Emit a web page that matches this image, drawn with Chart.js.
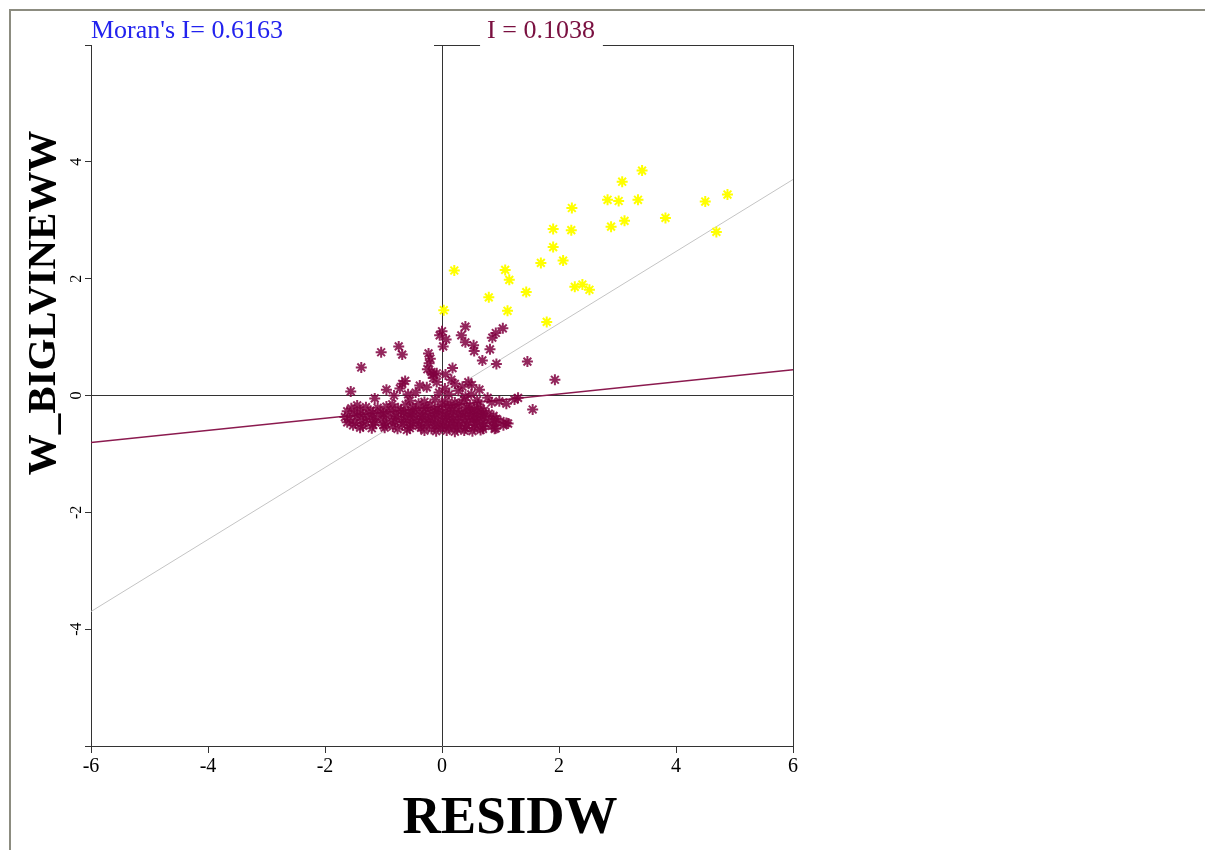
<!DOCTYPE html>
<html>
<head>
  <meta charset="UTF-8">
  <script src="https://cdn.jsdelivr.net/npm/chart.js"></script>
  <title>Moran scatter plot</title>
  <style>
    body { margin: 0; background: #fff; }
    .frame { position: absolute; left: 9px; top: 9px; right: 0; bottom: 0; border-left: 2px solid #8c8c80; border-top: 2px solid #8c8c80; }
    #chart { position: absolute; left: 0; top: 0; }
  </style>
</head>
<body>
  <div class="frame"></div>
  <canvas id="chart" width="1205" height="850"></canvas>
  <script>
    // axis / annotation text
    const xTitle = 'RESIDW';
    const yTitle = 'W_BIGLVINEWW';
    const moranI = 0.6163;
    const subsetI = 0.1038;
    const subsetIntercept = -0.18;
    const axisTicks = [-6, -4, -2, 0, 2, 4, 6];

    // yellow (high-high) points
    const hhX = [3.42, 3.08, 2.83, 3.02, 3.35, 4.50, 4.88, 2.22, 3.82, 3.12, 2.89, 4.69, 1.90, 2.21,
      1.90, 2.07, 1.69, 0.21, 1.08, 1.15, 2.27, 2.40, 2.52, 1.44, 0.80, 1.12, 0.03, 1.79];
    const hhY = [3.85, 3.66, 3.35, 3.33, 3.35, 3.32, 3.44, 3.21, 3.04, 2.99, 2.89, 2.80, 2.85, 2.83,
      2.54, 2.31, 2.27, 2.14, 2.15, 1.98, 1.86, 1.90, 1.81, 1.77, 1.68, 1.45, 1.46, 1.26];

    // maroon points (all other observations)
    const otX = [0.40, 0.33, 0.00, -0.04, 0.07, 0.02, 1.04, 0.92, 0.86, 0.40, 0.54, 0.55, 0.82, 0.69,
      0.93, 1.46, 1.93, 1.55, -1.38, -1.04, -0.74, -0.68, -0.23, -0.22, -0.25, 0.18, 0.16, 0.06,
      -1.56, -0.95, -0.72, -0.68, -0.63, -0.38, -0.15, -0.09, 0.45, 0.51, 0.64, 0.78, 0.98, 1.24,
      1.30, 0.66, 0.70, 0.93, 0.90, 1.13, 1.05, -0.15, -0.26, -0.09, -0.20, -0.18,
      0.05, -0.05, 0.12, 0.28, 0.35, 0.22, -0.45, -0.58, -1.15, -0.82, 0.50, 0.40, 0.85, 1.10, 0.60,
      -0.55, -0.30, -0.12, 0.05, 0.22, 0.38,
      -1.45, -0.85, -0.62, -0.40, -0.20, 0.00, 0.15, 0.30, 0.48, 0.62,
      -1.55, -1.30, -1.10, -0.95, -0.75, -0.50, -0.28, -0.08, 0.10, 0.25, 0.42, 0.55,
      -1.62, -1.40, -1.22, -1.05, -0.88, -0.70, -0.58, -0.45, -0.32, -0.18, -0.05, 0.06, 0.18, 0.33, 0.46, 0.60, 0.72,
      -1.50, -1.35, -1.18, -1.00, -0.82, -0.66, -0.52, -0.38, -0.24, -0.12, 0.02, 0.14, 0.28, 0.40, 0.52, 0.66, 0.80,
      -1.66, -1.45, -1.28, -1.12, -0.95, -0.78, -0.62, -0.48, -0.34, -0.20, -0.06, 0.08, 0.20, 0.35, 0.48, 0.58, 0.72, 0.88,
      -1.58, -1.38, -1.20, -1.02, -0.86, -0.70, -0.55, -0.42, -0.28, -0.14, 0.00, 0.12, 0.26, 0.40, 0.54, 0.68, 0.82, 1.00,
      -1.62, -1.48, -1.30, -1.14, -0.96, -0.80, -0.64, -0.50, -0.36, -0.22, -0.08, 0.05, 0.18, 0.32, 0.46, 0.60, 0.74, 0.90, 1.10,
      -1.52, -1.35, -1.18, -1.00, -0.84, -0.68, -0.54, -0.40, -0.26, -0.12, 0.02, 0.15, 0.28, 0.42, 0.56, 0.70, 0.85,
      -1.40, -1.20, -0.98, -0.76, -0.55, -0.36, -0.18, -0.02, 0.12, 0.26, 0.40, 0.55, 0.70, 0.92,
      -0.60, -0.30, -0.10, 0.08, 0.22, 0.38, 0.52, 0.66];
    const otY = [1.18, 1.03, 1.10, 1.03, 0.96, 0.84, 1.15, 1.07, 0.99, 0.91, 0.86, 0.76, 0.79, 0.60,
      0.54, 0.58, 0.27, -0.24, 0.48, 0.74, 0.84, 0.70, 0.72, 0.55, 0.45, 0.47, 0.27, 0.36,
      0.07, 0.10, 0.12, 0.20, 0.25, 0.17, 0.30, 0.38, 0.23, 0.18, 0.10, -0.04, -0.10, -0.07,
      -0.04, -0.22, -0.31, -0.40, -0.57, -0.48, -0.51, 0.37, 0.14, 0.23, 0.63, 0.40,
      0.12, 0.05, 0.02, 0.08, 0.15, 0.20, 0.05, 0.02, -0.05, 0.00, 0.02, -0.02, -0.12, -0.14, -0.08,
      -0.09, -0.11, -0.07, -0.10, -0.12, -0.08,
      -0.17, -0.15, -0.16, -0.14, -0.17, -0.15, -0.16, -0.14, -0.17, -0.15,
      -0.22, -0.20, -0.21, -0.19, -0.22, -0.20, -0.21, -0.23, -0.20, -0.22, -0.21, -0.24,
      -0.27, -0.25, -0.26, -0.27, -0.25, -0.26, -0.28, -0.25, -0.26, -0.27, -0.25, -0.27, -0.26, -0.28, -0.25, -0.27, -0.26,
      -0.31, -0.32, -0.30, -0.31, -0.33, -0.30, -0.31, -0.32, -0.30, -0.31, -0.33, -0.30, -0.32, -0.31, -0.30, -0.33, -0.31,
      -0.37, -0.35, -0.36, -0.38, -0.35, -0.36, -0.37, -0.35, -0.36, -0.38, -0.35, -0.36, -0.37, -0.35, -0.36, -0.38, -0.36, -0.35,
      -0.41, -0.42, -0.40, -0.41, -0.43, -0.40, -0.41, -0.42, -0.40, -0.41, -0.43, -0.40, -0.42, -0.41, -0.40, -0.42, -0.41, -0.44,
      -0.46, -0.47, -0.45, -0.46, -0.48, -0.45, -0.46, -0.47, -0.45, -0.46, -0.48, -0.45, -0.46, -0.47, -0.45, -0.46, -0.48, -0.46, -0.47,
      -0.51, -0.52, -0.50, -0.51, -0.53, -0.50, -0.51, -0.52, -0.50, -0.51, -0.53, -0.50, -0.52, -0.51, -0.50, -0.53, -0.52,
      -0.55, -0.56, -0.55, -0.57, -0.56, -0.55, -0.57, -0.56, -0.55, -0.57, -0.56, -0.55, -0.57, -0.56,
      -0.59, -0.60, -0.61, -0.60, -0.62, -0.60, -0.61, -0.59];

    const hhPts = hhX.map((v, i) => ({ x: v, y: hhY[i] }));
    const otPts = otX.map((v, i) => ({ x: v, y: otY[i] }));
    const xMin = axisTicks[0], xMax = axisTicks[axisTicks.length - 1];

    const serif = '"Liberation Serif", "Times New Roman", serif';

    // texts and borders GeoDa puts around the plot
    const decor = {
      id: 'decor',
      afterDraw(chart) {
        const { ctx, chartArea: a, scales: { x, y } } = chart;
        ctx.save();
        ctx.fillStyle = '#000';

        // y tick labels, turned like the original
        ctx.font = '16px ' + serif;
        ctx.textAlign = 'center';
        ctx.textBaseline = 'alphabetic';
        y.ticks.forEach(t => {
          if (t.value === xMin || t.value === xMax) return;
          ctx.save();
          ctx.translate(a.left - 10, y.getPixelForValue(t.value));
          ctx.rotate(-Math.PI / 2);
          ctx.fillText(String(t.value), 0, 0);
          ctx.restore();
        });

        // axis titles
        ctx.font = 'bold 53px ' + serif;
        ctx.fillText(xTitle, a.left + (a.right - a.left) * 0.597, a.bottom + 87);
        ctx.save();
        ctx.font = 'bold 41px ' + serif;
        ctx.translate(55, a.top + (a.bottom - a.top) * 0.368);
        ctx.rotate(-Math.PI / 2);
        ctx.fillText(yTitle, 0, 0);
        ctx.restore();

        // Moran's I labels
        ctx.font = '26px ' + serif;
        ctx.textAlign = 'left';
        ctx.fillStyle = '#2222ee';
        ctx.fillText("Moran's I= " + moranI.toFixed(4), a.left, a.top - 7);
        const lbl = 'I = ' + subsetI.toFixed(4);
        const w = ctx.measureText(lbl).width;
        const cx = a.left + (a.right - a.left) * 0.641;
        ctx.fillStyle = '#7a1040';
        ctx.fillText(lbl, cx - w / 2, a.top - 7);

        // partial top border
        const x0 = x.getPixelForValue(0);
        ctx.strokeStyle = '#333';
        ctx.lineWidth = 1;
        ctx.beginPath();
        ctx.moveTo(x0 - 8, a.top + 0.5);
        ctx.lineTo(cx - w / 2 - 7, a.top + 0.5);
        ctx.moveTo(cx + w / 2 + 8, a.top + 0.5);
        ctx.lineTo(a.right, a.top + 0.5);
        ctx.stroke();
        ctx.restore();
      }
    };

    const zeroLine = c => (c.tick && (c.tick.value === 0 || c.tick.value === xMax)) ? '#333' : 'rgba(0,0,0,0)';
    const yZero = c => (c.tick && c.tick.value === 0) ? '#333' : 'rgba(0,0,0,0)';

    new Chart(document.getElementById('chart'), {
      type: 'scatter',
      data: {
        datasets: [{
          data: hhPts,
          pointStyle: 'star',
          pointRadius: 5.5,
          borderColor: '#ffff00',
          borderWidth: 2
        }, {
          data: otPts,
          pointStyle: 'star',
          pointRadius: 5.5,
          borderColor: 'rgba(128,0,64,0.85)',
          borderWidth: 2
        }, {
          type: 'line',
          data: [{ x: xMin, y: subsetIntercept + subsetI * xMin }, { x: xMax, y: subsetIntercept + subsetI * xMax }],
          borderColor: '#8b1a4f',
          borderWidth: 1.5,
          pointRadius: 0
        }, {
          type: 'line',
          data: [{ x: xMin, y: moranI * xMin }, { x: xMax, y: moranI * xMax }],
          borderColor: '#c4c4c4',
          borderWidth: 1,
          pointRadius: 0
        }]
      },
      options: {
        responsive: false,
        animation: false,
        events: [],
        layout: { padding: { top: 45, right: 412, left: 0, bottom: 0 } },
        plugins: { legend: { display: false }, tooltip: { enabled: false } },
        scales: {
          x: {
            type: 'linear',
            min: xMin,
            max: xMax,
            afterBuildTicks: s => { s.ticks = axisTicks.map(v => ({ value: v })); },
            afterFit: s => { s.height = 104; },
            ticks: { color: '#000', font: { family: serif, size: 20 }, padding: 2 },
            grid: { color: zeroLine, tickColor: '#333', tickLength: 7 },
            border: { display: true, color: '#333', width: 1 }
          },
          y: {
            type: 'linear',
            min: xMin,
            max: xMax,
            afterBuildTicks: s => { s.ticks = axisTicks.map(v => ({ value: v })); },
            afterFit: s => { s.width = 91; },
            ticks: { display: false },
            grid: { color: yZero, tickColor: '#333', tickLength: 6 },
            border: { display: true, color: '#333', width: 1 }
          }
        }
      },
      plugins: [decor]
    });
  </script>
</body>
</html>
